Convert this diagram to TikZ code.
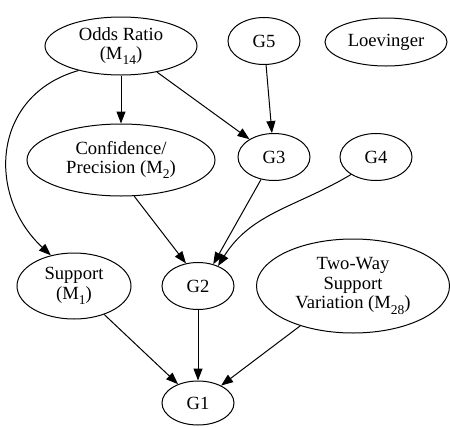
\documentclass[tikz,border=0pt]{standalone}
\usepackage{fontspec}
\setmainfont{Liberation Serif}
\usetikzlibrary{shapes.geometric,arrows.meta}
\newcommand{\sbs}[1]{\raisebox{-0.28em}{\fontsize{13.5}{13.5}\selectfont #1}}
\begin{document}
\begin{tikzpicture}[x=1pt,y=-1pt,
  nd/.style={ellipse,draw,line width=1pt,inner sep=0pt,align=center,
    font=\fontsize{18.6}{19.5}\selectfont},
  ed/.style={line width=1pt,-{Triangle[length=12pt,width=9pt]}}]
\useasboundingbox (0,0) rectangle (450,426);
\node[nd,minimum width=152pt,minimum height=58pt] (odds) at (121,46) {Odds Ratio\\(M\sbs{14})};
\node[nd,minimum width=72pt,minimum height=47pt] (g5) at (264,41) {G5};
\node[nd,minimum width=122pt,minimum height=48pt] (loev) at (386,42) {Loevinger};
\node[nd,minimum width=188pt,minimum height=72pt] (conf) at (121,160) {Confidence/\\Precision (M\sbs{2})};
\node[nd,minimum width=72pt,minimum height=47pt] (g3) at (274,157) {G3};
\node[nd,minimum width=72pt,minimum height=47pt] (g4) at (376,157) {G4};
\node[nd,minimum width=114pt,minimum height=66pt] (sup) at (74,286) {Support\\(M\sbs{1})};
\node[nd,minimum width=72pt,minimum height=47pt] (g2) at (198,286) {G2};
\node[nd,minimum width=193pt,minimum height=94pt] (two) at (353,286) {Two-Way\\Support\\Variation (M\sbs{28})};
\node[nd,minimum width=72pt,minimum height=44pt] (g1) at (198,403) {G1};
\draw[ed] (odds) -- (conf);
\draw[ed] (odds) -- (g3);
\draw[ed] (odds.210) .. controls (-8,95) and (-14,195) .. (sup.127);
\draw[ed] (g5) -- (g3);
\draw[ed] (conf.-70) -- (g2.118);
\draw[ed] (g3.240) -- (g2.55);
\draw[ed] (g4.215) to[out=211,in=58] (g2.45);
\draw[ed] (sup) -- (g1);
\draw[ed] (g2) -- (g1);
\draw[ed] (two) -- (g1);
\end{tikzpicture}
\end{document}
